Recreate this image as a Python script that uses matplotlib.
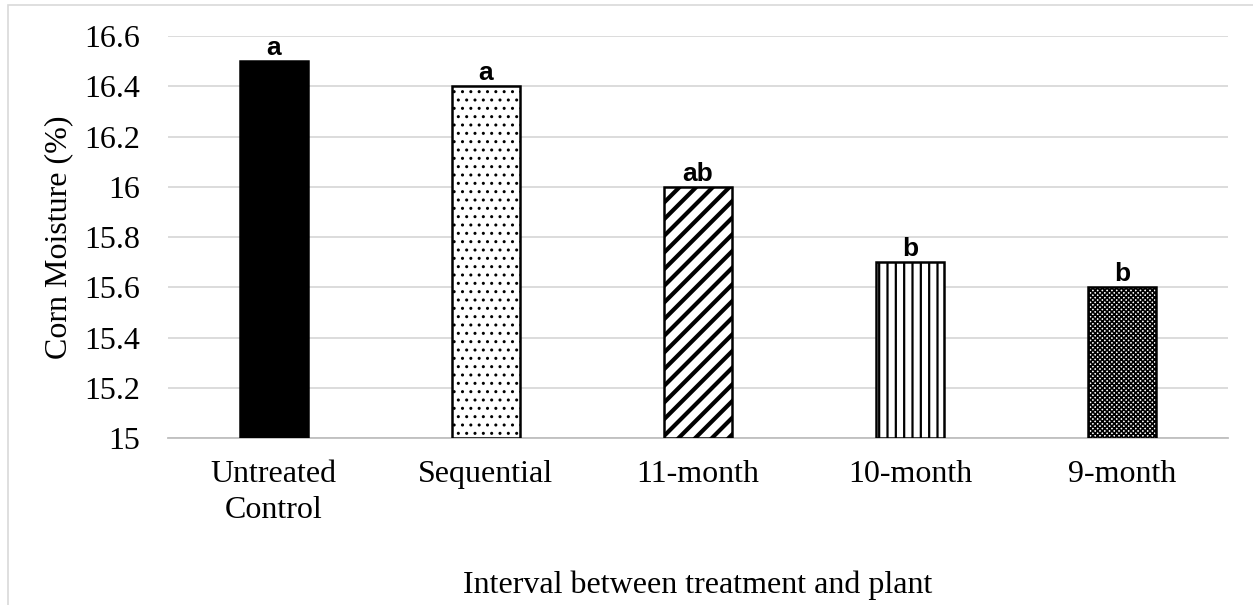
import matplotlib.pyplot as plt
from matplotlib.patches import Rectangle

categories = ['Untreated\nControl', 'Sequential', '11-month', '10-month', '9-month']
moisture = [16.5, 16.4, 16.0, 15.7, 15.6]
letters = ['a', 'a', 'ab', 'b', 'b']
hatches = ['', '..', '//', '||', 'xxxxxxx']
hatch_lw = [1.0, 1.0, 3.0, 1.6, 1.2]
fills = ['black', 'white', 'white', 'white', 'white']
yticks = [15, 15.2, 15.4, 15.6, 15.8, 16, 16.2, 16.4, 16.6]
ylabels = ['15', '15.2', '15.4', '15.6', '15.8', '16', '16.2', '16.4', '16.6']

serif = 'Liberation Serif'
fig = plt.figure(figsize=(12.53, 6.05), dpi=100)
ax = fig.add_axes([0.134, 0.276, 0.846, 0.6645])

for i in range(len(categories)):
    with plt.rc_context({'hatch.linewidth': hatch_lw[i]}):
        b = ax.bar(i, moisture[i] - 15, bottom=15, width=0.32, color=fills[i],
                   edgecolor='black', linewidth=1.8, hatch=hatches[i], zorder=3)[0]
        if hasattr(b, 'set_hatch_linewidth'):
            b.set_hatch_linewidth(hatch_lw[i])
    ax.text(i, moisture[i] + 0.004, letters[i], ha='center', va='bottom',
            fontsize=19, fontweight='bold', family='Liberation Sans')

ax.set_ylim(15, 16.6)
ax.set_xlim(-0.5, 4.5)
ax.set_yticks(yticks)
ax.set_yticklabels(ylabels, family=serif, fontsize=23)
ax.set_xticks(range(len(categories)))
ax.set_xticklabels(categories, family=serif, fontsize=23, linespacing=1.3)
ax.tick_params(axis='y', length=0, pad=20)
ax.tick_params(axis='x', length=0, pad=16)
ax.grid(axis='y', color='#d9d9d9', linewidth=1.3, zorder=0)
for s in ['top', 'right', 'left']:
    ax.spines[s].set_visible(False)
ax.spines['bottom'].set_color('#bfbfbf')
ax.spines['bottom'].set_linewidth(1.3)

ax.set_ylabel('Corn Moisture (%)', family=serif, fontsize=23, labelpad=8)
ax.set_xlabel('Interval between treatment and plant', family=serif,
              fontsize=23, labelpad=33)

fig.patches.append(Rectangle((0.006, -0.01), 1.1, 1.002, transform=fig.transFigure,
                             fill=False, edgecolor='#d9d9d9', linewidth=1.2))

fig.savefig('out.png', dpi=100)
